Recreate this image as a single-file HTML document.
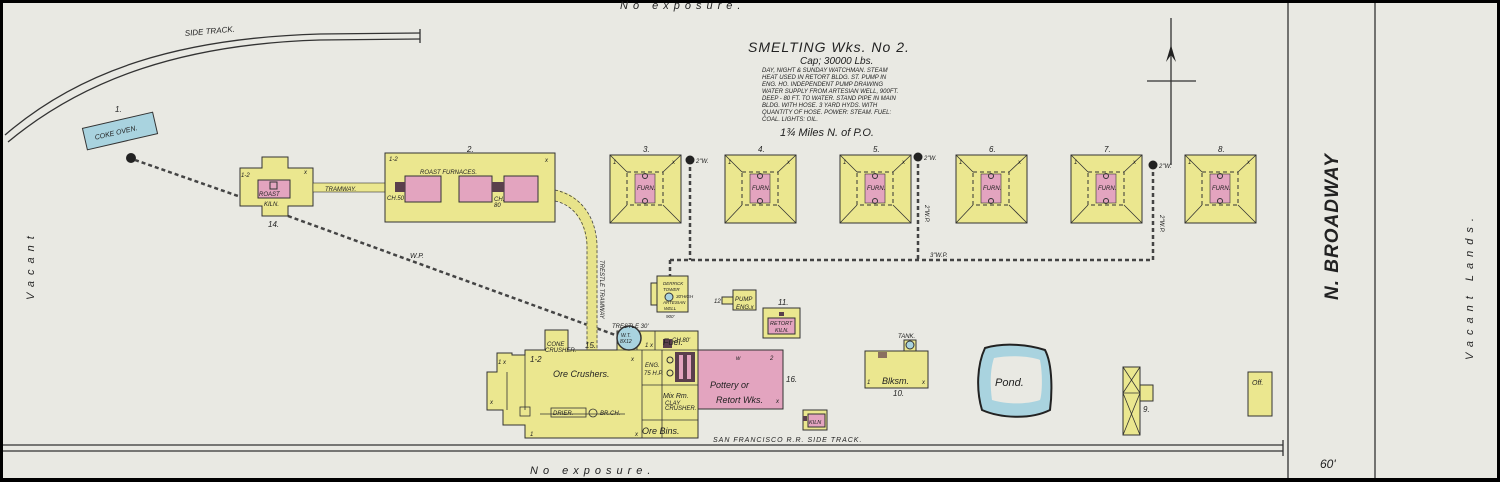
<!DOCTYPE html>
<html><head><meta charset="utf-8"><style>
html,body{margin:0;padding:0;background:#000;}
svg{display:block;}
text{font-family:"Liberation Sans",sans-serif;font-style:italic;fill:#222;}
</style></head><body>
<svg width="1500" height="482" viewBox="0 0 1500 482" xmlns="http://www.w3.org/2000/svg">
<rect x="3" y="3" width="1494" height="475" fill="#e9e9e3"/>
<g stroke="#333" fill="none" stroke-width="1.3">
<path d="M5,135 C80,70 180,38 320,34 L420,33"/>
<path d="M8,142 C85,78 185,44 320,40 L420,39"/>
<line x1="420" y1="29" x2="420" y2="43"/>
<line x1="3" y1="445" x2="1283" y2="445"/>
<line x1="3" y1="451" x2="1283" y2="451"/>
<line x1="1283" y1="440" x2="1283" y2="456"/>
<line x1="1288" y1="3" x2="1288" y2="478"/>
<line x1="1375" y1="3" x2="1375" y2="478"/>
<line x1="1171" y1="18" x2="1171" y2="165"/>
<line x1="1147" y1="81" x2="1196" y2="81"/>
</g>
<path d="M1171,45 L1166,62 L1171,55 L1176,62 Z" fill="#222"/>
<text x="185" y="36" font-size="8" transform="rotate(-5 185 36)">SIDE TRACK.</text>
<text x="620" y="9" font-size="11" letter-spacing="5">No exposure.</text>
<text x="530" y="474" font-size="11" letter-spacing="5">No exposure.</text>
<text x="1320" y="468" font-size="12">60'</text>
<text transform="translate(1338,300) rotate(-90)" font-size="19" font-weight="bold" font-style="normal" letter-spacing="1">N. BROADWAY</text>
<text transform="translate(1473,360) rotate(-90)" font-size="11" letter-spacing="6">Vacant Lands.</text>
<text transform="translate(34,300) rotate(-90)" font-size="11" letter-spacing="6">Vacant</text>

<!-- title block -->
<text x="748" y="52" font-size="14" letter-spacing="1">SMELTING  Wks.  No 2.</text>
<text x="800" y="64" font-size="10">Cap; 30000 Lbs.</text>
<g font-size="6">
<text x="762" y="72">DAY, NIGHT &amp; SUNDAY WATCHMAN. STEAM</text>
<text x="762" y="79">HEAT USED IN RETORT BLDG. ST. PUMP IN</text>
<text x="762" y="86">ENG. HO. INDEPENDENT PUMP DRAWING</text>
<text x="762" y="93">WATER SUPPLY FROM ARTESIAN WELL, 900FT.</text>
<text x="762" y="100">DEEP - 80 FT. TO WATER. STAND PIPE IN MAIN</text>
<text x="762" y="107">BLDG. WITH HOSE. 3 YARD HYDS. WITH</text>
<text x="762" y="114">QUANTITY OF HOSE. POWER: STEAM. FUEL:</text>
<text x="762" y="121">COAL. LIGHTS: OIL.</text>
</g>
<text x="780" y="136" font-size="11">1¾ Miles  N. of P.O.</text>

<!-- coke oven -->
<g transform="rotate(-13 120 131)">
<rect x="84" y="120" width="72" height="22" fill="#a9d3df" stroke="#333"/>
<text x="94" y="134" font-size="7">COKE OVEN.</text>
</g>
<text x="115" y="112" font-size="8">1.</text>
<circle cx="131" cy="158" r="5" fill="#222"/>

<!-- dashed pipes -->
<g stroke="#444" stroke-width="2.5" stroke-dasharray="4,3" fill="none">
<line x1="135" y1="160" x2="238" y2="196"/>
<line x1="288" y1="216" x2="618" y2="336"/>
<line x1="690" y1="160" x2="690" y2="260"/>
<line x1="918" y1="157" x2="918" y2="260"/>
<line x1="1153" y1="165" x2="1153" y2="260"/>
<line x1="670" y1="260" x2="1153" y2="260"/>
<line x1="670" y1="260" x2="670" y2="276"/>
</g>
<circle cx="690" cy="160" r="4.5" fill="#222"/>
<circle cx="918" cy="157" r="4.5" fill="#222"/>
<circle cx="1153" cy="165" r="4.5" fill="#222"/>
<g font-size="6">
<text x="696" y="163">2"W.</text><text x="924" y="160">2"W.</text><text x="1159" y="168">2"W.</text>
<text x="930" y="257">3"W.P.</text>
<text x="410" y="258" font-size="7">W.P.</text>
<text transform="translate(925,205) rotate(90)">2"W.P.</text>
<text transform="translate(1160,215) rotate(90)">2"W.P.</text>
</g>

<!-- trestle -->
<path d="M555,195 C578,200 590,220 592,245 L592,352" stroke="#e7e38a" stroke-width="11" fill="none"/>
<path d="M555,190 C582,196 596,218 597,245 L597,352 M555,201 C574,205 586,222 587,245 L587,352" stroke="#444" stroke-width="0.8" stroke-dasharray="3,2" fill="none"/>
<text transform="translate(600,260) rotate(90)" font-size="6">TRESTLE TRAMWAY</text>

<!-- roast kiln 14 -->
<path d="M262,157 H288 V168 H313 V206 H288 V216 H262 V206 H240 V168 H262 Z" fill="#ebe78f" stroke="#333"/>
<rect x="258" y="180" width="32" height="18" fill="#e3a4bf" stroke="#333"/>
<rect x="270" y="182" width="7" height="7" fill="none" stroke="#333"/>
<g font-size="6"><text x="241" y="177">1-2</text><text x="259" y="196">ROAST</text><text x="264" y="206">KILN.</text><text x="304" y="174">x</text></g>
<text x="268" y="227" font-size="8">14.</text>
<rect x="313" y="183" width="72" height="9" fill="#ebe78f" stroke="#333" stroke-width="0.6"/>
<text x="325" y="191" font-size="6">TRAMWAY.</text>

<!-- roast furnaces 2 -->
<rect x="385" y="153" width="170" height="69" fill="#ebe78f" stroke="#333"/>
<rect x="405" y="176" width="36" height="26" fill="#e3a4bf" stroke="#333"/>
<rect x="459" y="176" width="33" height="26" fill="#e3a4bf" stroke="#333"/>
<rect x="504" y="176" width="34" height="26" fill="#e3a4bf" stroke="#333"/>
<rect x="395" y="182" width="10" height="10" fill="#5a3f4c"/>
<rect x="492" y="182" width="12" height="10" fill="#5a3f4c"/>
<g font-size="6"><text x="389" y="161">1-2</text><text x="420" y="174">ROAST   FURNACES.</text><text x="545" y="162">x</text><text x="387" y="200">CH.50</text><text x="494" y="201">CH.</text><text x="494" y="207">80</text></g>
<text x="467" y="152" font-size="8">2.</text>

<!-- furnaces 3-8 -->
<defs>
<g id="furn">
<rect x="0" y="0" width="71" height="68" fill="#ebe78f" stroke="#333"/>
<rect x="17" y="17" width="36" height="33" fill="none" stroke="#333" stroke-dasharray="4,3"/>
<rect x="25" y="19" width="20" height="29" fill="#e3a4bf" stroke="#333" stroke-width="0.6"/>
<g stroke="#333" stroke-width="0.8"><line x1="0" y1="0" x2="17" y2="17"/><line x1="71" y1="0" x2="53" y2="17"/><line x1="0" y1="68" x2="17" y2="50"/><line x1="71" y1="68" x2="53" y2="50"/></g>
<circle cx="35" cy="21" r="2.5" fill="none" stroke="#333"/><circle cx="35" cy="46" r="2.5" fill="none" stroke="#333"/>
<text x="27" y="35" font-size="6">FURN.</text>
<text x="3" y="9" font-size="6">1</text><text x="62" y="9" font-size="6">x</text>
</g>
</defs>
<use href="#furn" x="610" y="155"/><use href="#furn" x="725" y="155"/><use href="#furn" x="840" y="155"/>
<use href="#furn" x="956" y="155"/><use href="#furn" x="1071" y="155"/><use href="#furn" x="1185" y="155"/>
<g font-size="8"><text x="643" y="152">3.</text><text x="758" y="152">4.</text><text x="873" y="152">5.</text><text x="989" y="152">6.</text><text x="1104" y="152">7.</text><text x="1218" y="152">8.</text></g>

<!-- tower bldg -->
<rect x="651" y="283" width="9" height="22" fill="#ebe78f" stroke="#333"/>
<rect x="657" y="276" width="31" height="36" fill="#ebe78f" stroke="#333"/>
<circle cx="669" cy="297" r="4" fill="#a9d3df" stroke="#333"/>
<g font-size="4.5"><text x="663" y="285">DERRICK</text><text x="663" y="291">TOWER</text><text x="676" y="298">30'HIGH</text><text x="663" y="304">ARTESIAN</text><text x="664" y="310">WELL</text><text x="666" y="318">900'</text></g>
<!-- pump eng -->
<rect x="722" y="297" width="11" height="7" fill="#ebe78f" stroke="#333"/>
<rect x="733" y="290" width="23" height="20" fill="#ebe78f" stroke="#333"/>
<g font-size="6"><text x="714" y="303">12</text><text x="735" y="301">PUMP</text><text x="736" y="309">ENG.x</text></g>
<!-- retort kiln 11 -->
<rect x="763" y="308" width="37" height="30" fill="#ebe78f" stroke="#333"/>
<rect x="768" y="318" width="27" height="16" fill="#e3a4bf" stroke="#333"/>
<rect x="779" y="312" width="5" height="4" fill="#5a3f4c"/>
<g font-size="5.5"><text x="770" y="325">RETORT</text><text x="775" y="332">KILN.</text></g>
<text x="778" y="305" font-size="8">11.</text>

<!-- main complex -->
<path d="M497,353 H512 V355 H525 V350 H545 V330 H568 V350 H617 V331 H698 V350 H698 V438 H525 V425 H503 V410 H487 V372 H497 Z" fill="#ebe78f" stroke="#333"/>
<rect x="698" y="350" width="85" height="59" fill="#e3a4bf" stroke="#333"/>
<g stroke="#333" stroke-width="0.8" fill="none">
<line x1="642" y1="350" x2="642" y2="438"/>
<line x1="662" y1="350" x2="662" y2="438"/>
<line x1="642" y1="385" x2="698" y2="385"/>
<line x1="642" y1="420" x2="698" y2="420"/>
<line x1="617" y1="350" x2="698" y2="350"/>
<line x1="637" y1="331" x2="637" y2="350"/>
<line x1="655" y1="331" x2="655" y2="350"/>
<line x1="525" y1="355" x2="525" y2="410"/>
<line x1="507" y1="372" x2="507" y2="410"/>
<line x1="540" y1="414" x2="625" y2="414"/>
<rect x="520" y="407" width="10" height="9"/>
<rect x="551" y="408" width="35" height="9"/>
<circle cx="593" cy="413" r="4"/>
</g>
<rect x="675" y="352" width="20" height="30" fill="#5a3f4c"/>
<rect x="679" y="355" width="4" height="24" fill="#e3a4bf"/><rect x="687" y="355" width="4" height="24" fill="#e3a4bf"/>
<circle cx="670" cy="360" r="3" fill="none" stroke="#333"/><circle cx="670" cy="373" r="3" fill="none" stroke="#333"/>
<rect x="663" y="339" width="9" height="9" fill="#5a3f4c"/>
<circle cx="629" cy="338" r="12" fill="#a9d3df" stroke="#333" stroke-width="1.5"/>
<g font-size="5"><text x="621" y="337">W.T.</text><text x="620" y="343">8X12</text></g>
<g font-size="9">
<text x="553" y="377">Ore Crushers.</text>
<text x="663" y="345">Fuel.</text>
<text x="710" y="388">Pottery or</text>
<text x="716" y="403">Retort Wks.</text>
<text x="642" y="434">Ore  Bins.</text>
<text x="663" y="398" font-size="7">Mix Rm.</text>
</g>
<g font-size="6">
<text x="612" y="328">TRESTLE 30'</text>
<text x="672" y="342">CH.80'</text>
<text x="545" y="352">CRUSHER.</text>
<text x="547" y="346">CONE</text>
<text x="645" y="367">ENG.</text><text x="644" y="375">75 H.P.</text>
<text x="665" y="405">CLAY</text><text x="665" y="410">CRUSHER.</text>
<text x="553" y="415">DRIER.</text><text x="600" y="415">BR.CH.</text>
<text x="530" y="362" font-size="8">1-2</text>
<text x="498" y="364">1 x</text><text x="490" y="404">x</text>
<text x="631" y="361">x</text><text x="530" y="436">1</text><text x="635" y="436">x</text>
<text x="645" y="347">1 x</text><text x="776" y="403">x</text>
<text x="736" y="360">w</text><text x="770" y="360">2</text>
</g>
<text x="585" y="348" font-size="8">15.</text>
<text x="786" y="382" font-size="8">16.</text>
<!-- small kiln -->
<rect x="803" y="410" width="24" height="20" fill="#ebe78f" stroke="#333"/>
<rect x="808" y="414" width="17" height="13" fill="#e3a4bf" stroke="#333"/>
<rect x="803" y="416" width="4" height="5" fill="#5a3f4c"/>
<text x="809" y="424" font-size="5.5">KILN</text>
<text x="713" y="442" font-size="7" letter-spacing="1">SAN FRANCISCO R.R. SIDE TRACK.</text>

<!-- blksm 10 -->
<rect x="865" y="351" width="63" height="37" fill="#ebe78f" stroke="#333"/>
<rect x="904" y="340" width="12" height="11" fill="#ebe78f" stroke="#333"/>
<circle cx="910" cy="345" r="4" fill="#a9d3df" stroke="#333"/>
<rect x="878" y="352" width="9" height="6" fill="#8a7060"/>
<g font-size="6"><text x="898" y="338">TANK.</text><text x="867" y="384">1</text><text x="922" y="384">x</text></g>
<text x="882" y="384" font-size="9">Blksm.</text>
<text x="893" y="396" font-size="8">10.</text>
<!-- pond -->
<path d="M985,348 C1005,342 1030,345 1045,350 C1053,365 1052,395 1050,410 C1030,420 1000,418 982,410 C976,390 977,365 985,348 Z" fill="#a9d3df" stroke="#222" stroke-width="2"/>
<path d="M994,358 C1010,355 1030,356 1040,360 C1043,375 1042,395 1040,400 C1025,405 1005,404 992,400 C990,385 990,370 994,358 Z" fill="#e9e9e3"/>
<text x="995" y="386" font-size="11">Pond.</text>
<!-- 9 -->
<rect x="1140" y="385" width="13" height="16" fill="#ebe78f" stroke="#333"/>
<rect x="1123" y="367" width="17" height="68" fill="#ebe78f" stroke="#333"/>
<g stroke="#333" stroke-width="0.8"><line x1="1123" y1="393" x2="1140" y2="393"/><line x1="1123" y1="367" x2="1140" y2="393"/><line x1="1140" y1="367" x2="1123" y2="393"/><line x1="1123" y1="393" x2="1140" y2="435"/><line x1="1140" y1="393" x2="1123" y2="435"/></g>
<text x="1143" y="412" font-size="8">9.</text>
<!-- off -->
<rect x="1248" y="372" width="24" height="44" fill="#ebe78f" stroke="#333"/>
<text x="1252" y="385" font-size="7">Off.</text>
</svg>
</body></html>
